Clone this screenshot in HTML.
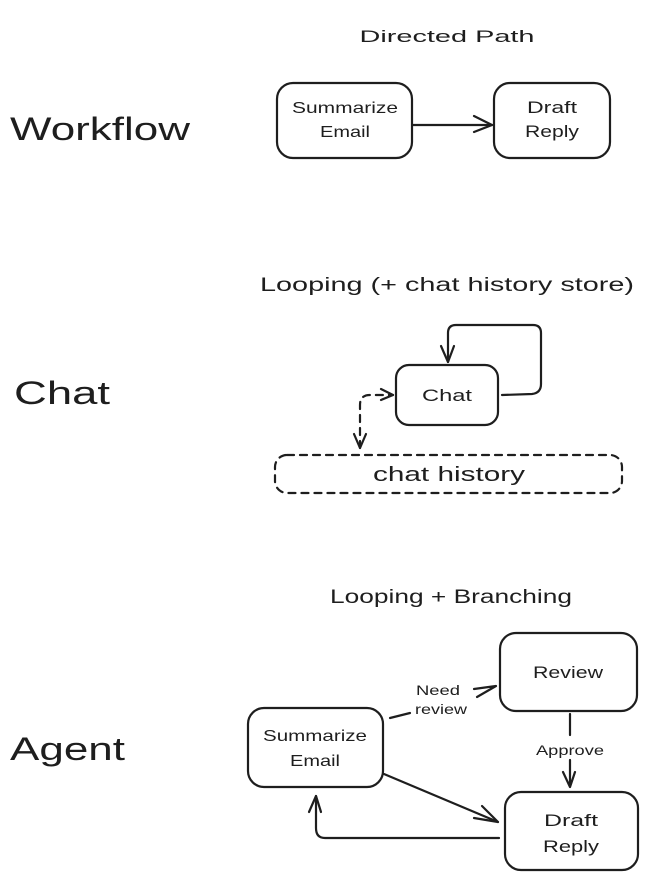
<!DOCTYPE html>
<html><head><meta charset="utf-8"><style>
html,body{margin:0;padding:0;background:#fff;}
svg{display:block;}
text{font-family:"Liberation Sans","DejaVu Sans",sans-serif;fill:#1e1e1e;}
</style></head><body>
<svg width="670" height="886" viewBox="0 0 670 886" xmlns="http://www.w3.org/2000/svg">
<g fill="none" stroke="#1e1e1e" stroke-width="2.2" stroke-linecap="round" stroke-linejoin="round">
<rect x="277" y="83" width="135" height="75" rx="16"/>
<rect x="494" y="83" width="116" height="75" rx="16"/>
<path d="M413 125 L492 125"/>
<path d="M474 116 L492 125 L474 132"/>
<rect x="396" y="365" width="102" height="60" rx="13"/>
<path d="M502 395 L532 394 Q541 393 541 384 L541 333 Q541 325 533 325 L456 325 Q448 325 448 333 L448 362"/>
<path d="M441 346 L448 362 L454 346"/>
<g stroke-dasharray="7 6">
<rect x="275" y="455" width="347" height="38" rx="12"/>
<path d="M360 448 L360 405 Q360 395 370 395 L393 395"/>
</g>
<path d="M381 389 L393 395 L381 400"/>
<path d="M354 434 L360 448 L366 434"/>
<rect x="500" y="633" width="137" height="78" rx="16"/>
<rect x="248" y="708" width="135" height="79" rx="16"/>
<rect x="505" y="792" width="133" height="78" rx="16"/>
<path d="M390 718 L410 713"/>
<path d="M474 689 L496 686 M477 697 L496 686"/>
<path d="M570 714 L570 735"/>
<path d="M570 760 L570 787 M563 772 L570 787 L575 772"/>
<path d="M384 774 L498 822"/>
<path d="M474 818 L498 822 L482 806"/>
<path d="M499 838 L325 838 Q316 838 316 828 L316 796"/>
<path d="M309 812 L316 796 L321 812"/>
</g>
<g font-size="17" text-anchor="middle" lengthAdjust="spacingAndGlyphs">
<text x="447" y="42" textLength="175" lengthAdjust="spacingAndGlyphs">Directed Path</text>
<text x="447" y="291" font-size="19" textLength="374" lengthAdjust="spacingAndGlyphs">Looping (+ chat history store)</text>
<text x="451" y="603" font-size="19" textLength="242" lengthAdjust="spacingAndGlyphs">Looping + Branching</text>
<text x="345" y="113" font-size="16" textLength="106" lengthAdjust="spacingAndGlyphs">Summarize</text>
<text x="345" y="137" font-size="16" textLength="50" lengthAdjust="spacingAndGlyphs">Email</text>
<text x="552" y="113" textLength="50" lengthAdjust="spacingAndGlyphs">Draft</text>
<text x="552" y="137" textLength="54" lengthAdjust="spacingAndGlyphs">Reply</text>
<text x="447" y="401" textLength="50" lengthAdjust="spacingAndGlyphs">Chat</text>
<text x="449" y="481" font-size="20" textLength="152" lengthAdjust="spacingAndGlyphs">chat history</text>
<text x="568" y="678" textLength="70" lengthAdjust="spacingAndGlyphs">Review</text>
<text x="315" y="741" font-size="16" textLength="104" lengthAdjust="spacingAndGlyphs">Summarize</text>
<text x="315" y="766" font-size="16" textLength="50" lengthAdjust="spacingAndGlyphs">Email</text>
<text x="571" y="826" textLength="54" lengthAdjust="spacingAndGlyphs">Draft</text>
<text x="571" y="852" textLength="56" lengthAdjust="spacingAndGlyphs">Reply</text>
<text x="438" y="695" font-size="14" textLength="44" lengthAdjust="spacingAndGlyphs">Need</text>
<text x="441" y="714" font-size="14" textLength="52" lengthAdjust="spacingAndGlyphs">review</text>
<text x="570" y="755" font-size="14" textLength="68" lengthAdjust="spacingAndGlyphs">Approve</text>
</g>
<g font-size="32" text-anchor="start">
<text x="10" y="140" textLength="180" lengthAdjust="spacingAndGlyphs">Workflow</text>
<text x="14" y="404" textLength="96" lengthAdjust="spacingAndGlyphs">Chat</text>
<text x="10" y="760" textLength="115" lengthAdjust="spacingAndGlyphs">Agent</text>
</g>
</svg>
</body></html>
